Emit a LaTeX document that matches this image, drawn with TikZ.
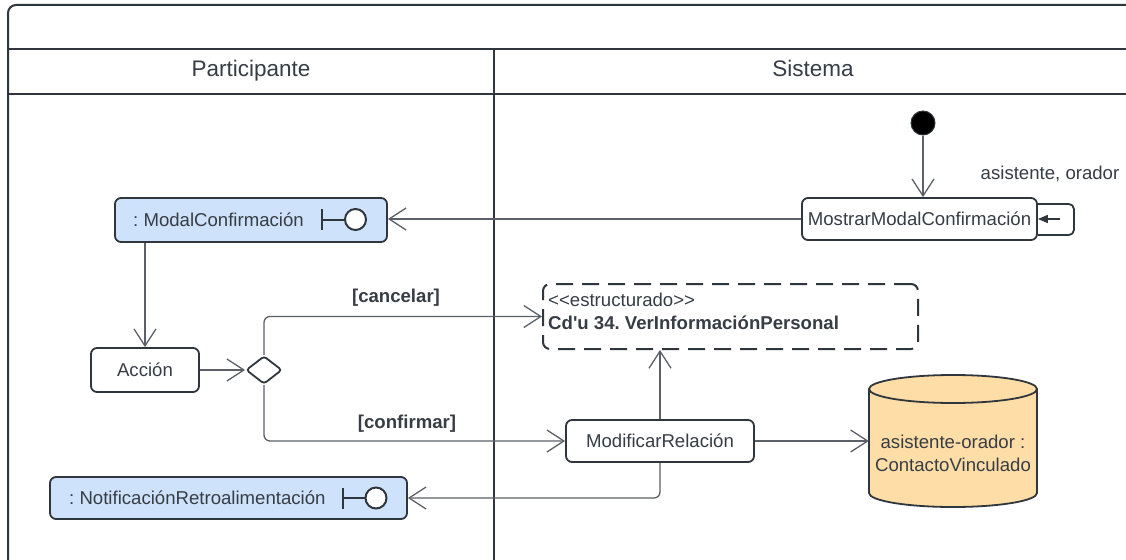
\documentclass[tikz,border=0pt]{standalone}
\usepackage{fontspec}
\newfontfamily\lsans{Liberation Sans}
\usetikzlibrary{arrows.meta,shapes.geometric}
\definecolor{linec}{HTML}{5C6169}
\definecolor{borderc}{HTML}{30363D}
\definecolor{textc}{HTML}{373D45}
\definecolor{bluef}{HTML}{CFE2FC}
\definecolor{orangef}{HTML}{FFDDA6}
\frenchspacing
\begin{document}
\begin{tikzpicture}[x=1pt,y=-1pt,
  txt/.style={font=\lsans\fontsize{18.6pt}{23pt}\selectfont, text=textc, inner sep=0pt},
  btxt/.style={font=\lsans\bfseries\fontsize{18.6pt}{23pt}\selectfont, text=textc, inner sep=0pt},
  htxt/.style={font=\lsans\fontsize{22.5pt}{27pt}\selectfont, text=textc, inner sep=0pt, anchor=base},
  act/.style={draw=borderc, line width=1.8pt, rounded corners=6pt, fill=white, txt},
  iface/.style={act, fill=bluef},
  conn/.style={draw=linec, line width=1.3pt, rounded corners=6pt, -{Straight Barb[length=17pt,width=22pt]}},
  frame/.style={draw=borderc, line width=2pt},
  isym/.style={draw=borderc, line width=2pt},
]
\useasboundingbox (0,0) rectangle (1126,559);
\clip (0,0) rectangle (1126,559);
\fill[white] (0,0) rectangle (1126,559);

% frame and lanes
\draw[frame, rounded corners=8pt] (8,600) -- (8,5) -- (1160,5);
\draw[frame] (8,49.5) -- (1160,49.5);
\draw[frame] (8,94.5) -- (1160,94.5);
\draw[frame] (494,49.5) -- (494,600);
\node[htxt] (hpart) at (251,77) {Participante};
\node[htxt] (hsis) at (813,77) {Sistema};

% nodes
\node[circle, fill=black, draw=borderc, line width=1pt, minimum size=24pt, inner sep=0pt] (init) at (923,123) {};
\node[act, minimum width=235pt, minimum height=42pt] (mostrar) at (919.5,219) {MostrarModalConfirmación};
\node[txt] (loopl) at (1050,174) {asistente, orador};

\node[iface, minimum width=272pt, minimum height=44pt] (modal) at (251,220) {};
\node[txt, anchor=west] (modalt) at (133,219.5) {: ModalConfirmación};
\draw[isym] (322,209) -- (322,230);
\draw[isym] (322,219.5) -- (344.5,219.5);
\draw[isym, fill=white] (355.5,219.5) circle[radius=10.5pt];

\node[act, minimum width=108pt, minimum height=44pt] (accion) at (145,370) {Acción};
\node[diamond, draw=borderc, line width=1.8pt, fill=white, minimum width=36pt, minimum height=28pt, inner sep=0pt, rounded corners=3pt] (dec) at (264,370) {};

\node[draw=borderc, line width=2pt, dash pattern=on 17pt off 9pt, rounded corners=7pt, minimum width=375pt, minimum height=65pt] (est) at (730.5,316.5) {};
\node[txt, anchor=west] (estt1) at (548,300) {<<estructurado>>};
\node[btxt, anchor=west] (estt2) at (548,323) {Cd'u 34. VerInformaciónPersonal};

\node[act, minimum width=188pt, minimum height=42pt] (mod) at (660,441) {ModificarRelación};

% database cylinder
\filldraw[fill=orangef, draw=borderc, line width=1.8pt]
  (869,389) -- (869,493) arc[start angle=180, end angle=360, x radius=84pt, y radius=14pt]
  -- (1037,389) arc[start angle=0, end angle=180, x radius=84pt, y radius=14pt] -- cycle;
\draw[draw=borderc, line width=1.8pt] (869,389) arc[start angle=180, end angle=360, x radius=84pt, y radius=14pt];
\node[minimum width=168pt, minimum height=132pt, inner sep=0pt] (db) at (953,441) {};
\node[txt, align=center] (dbt) at (953,453.5) {asistente-orador :\\ContactoVinculado};

\node[iface, minimum width=357pt, minimum height=42pt] (notif) at (228.5,498) {};
\node[txt, anchor=west] (notift) at (69,497.5) {: NotificaciónRetroalimentación};
\draw[isym] (342.5,488) -- (342.5,509);
\draw[isym] (342.5,498) -- (365,498);
\draw[isym, fill=white] (376,498) circle[radius=10.5pt];

% connectors
\draw[conn] (init) -- (init |- mostrar.north);
\draw[conn] (mostrar.west) -- (mostrar.west -| modal.east);
\draw[conn] (modal.south -| accion) -- (accion.north);
\draw[conn] (accion.east) -- (dec.west);
\draw[conn] (dec.north) |- (est.west);
\draw[conn] (dec.south) |- (mod.west);
\draw[conn] (mod.north) -- (mod.north |- est.south);
\draw[conn] (mod.east) -- (mod.east -| db.west);
\draw[conn] (mod.south) |- (notif.east);
\node[btxt] (lcan) at (396,298) {[cancelar]};
\node[btxt] (lconf) at (407,424) {[confirmar]};

% self transition
\draw[draw=borderc, line width=1.8pt, rounded corners=5pt]
  ([yshift=15pt]mostrar.east) -- ++(36,0) -- ++(0,31) -- ([yshift=-16pt]mostrar.east);
\draw[draw=borderc, line width=1.5pt, -{Triangle[length=10pt,width=8pt]}]
  ([xshift=22pt]mostrar.east) -- (mostrar.east);
\end{tikzpicture}
\end{document}
